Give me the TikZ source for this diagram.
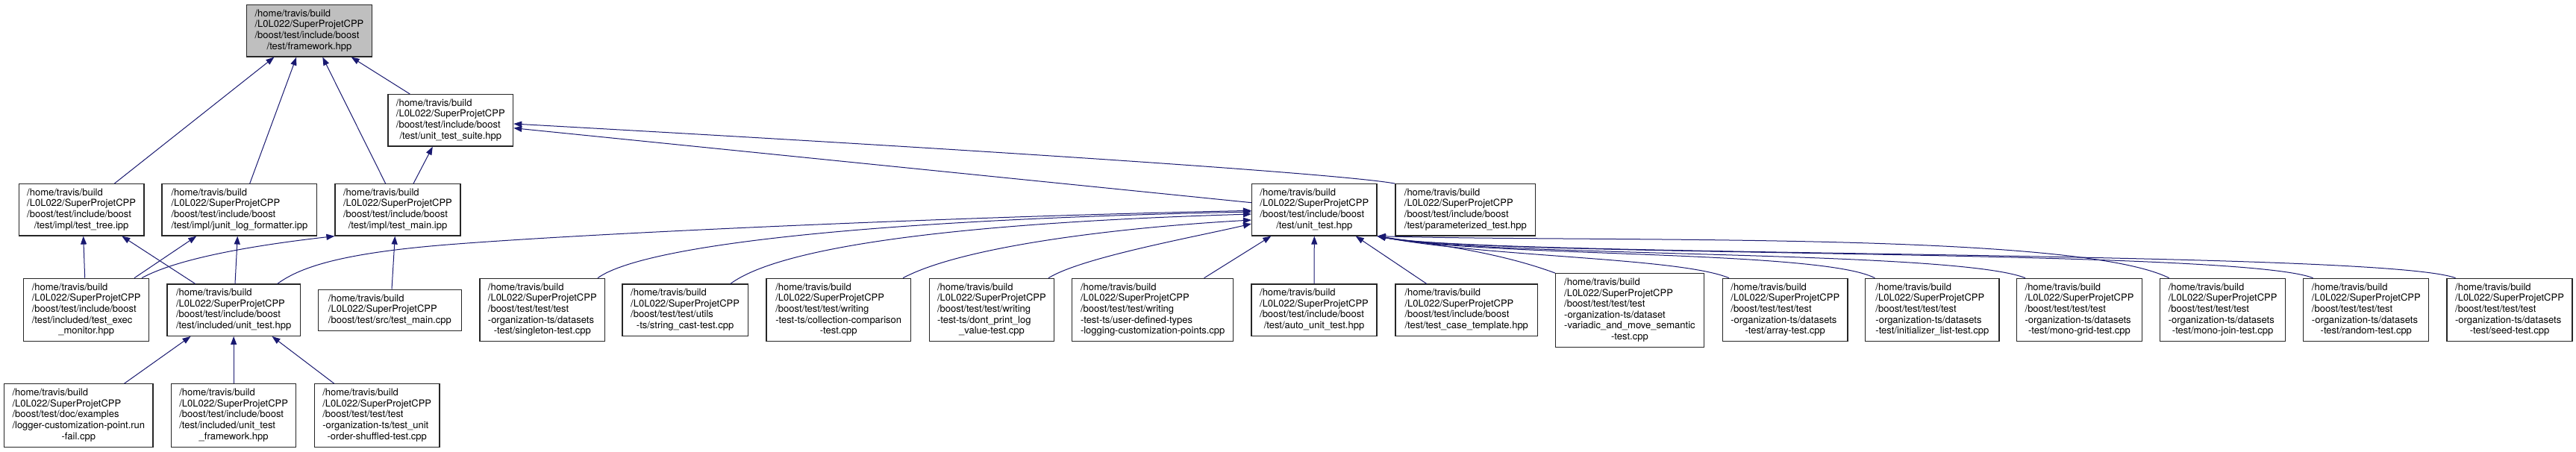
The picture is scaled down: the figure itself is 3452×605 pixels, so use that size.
\documentclass[tikz,border=0pt]{standalone}
\usepackage{fontspec}
\setmainfont{TeX Gyre Heros}
\usetikzlibrary{arrows.meta,calc}
\definecolor{edgeblue}{HTML}{191970}
\definecolor{nodegray}{HTML}{BFBFBF}
\newcommand\flbl[2]{\begin{tabular}{@{}l@{}}#1\\\multicolumn{1}{@{}c@{}}{#2}\end{tabular}}
\newcommand\hdr{/home/travis/build\\/L0L022/SuperProjetCPP}
\renewcommand\arraystretch{1}
\begin{document}
\begin{tikzpicture}[x=1pt,y=-1pt,
  box/.style={draw=black!85, line width=1.2pt, fill=white, inner sep=0pt, anchor=center,
    font=\fontsize{13}{14.6}\selectfont},
  hthree/.style={box, minimum height=55},
  hfour/.style={box, minimum height=69.3},
  hfive/.style={box, minimum height=84.4},
  hsix/.style={box, minimum height=98.6},
  edge/.style={draw=edgeblue, line width=1pt, -{Triangle[length=11pt,width=8pt]}}]
\useasboundingbox (0,0) rectangle (3452,605);
% row 0
\node[hfour, fill=nodegray, minimum width=167.6] (A) at (414.5,41.35) {\flbl{\hdr\\/boost/test/include/boost}{/test/framework.hpp}};
% row 1
\node[hfour, minimum width=167.7] (B) at (603.8,161.35) {\flbl{\hdr\\/boost/test/include/boost}{/test/unit\_test\_suite.hpp}};
% row 2
\node[hfour, minimum width=167.6] (C) at (109.1,281.35) {\flbl{\hdr\\/boost/test/include/boost}{/test/impl/test\_tree.ipp}};
\node[hfour, minimum width=207.8] (D) at (320.9,281.35) {\flbl{\hdr\\/boost/test/include/boost}{/test/impl/junit\_log\_formatter.ipp}};
\node[hfour, minimum width=168] (E) at (533,281.35) {\flbl{\hdr\\/boost/test/include/boost}{/test/impl/test\_main.ipp}};
\node[hfour, minimum width=167.5] (F) at (1761.3,281.35) {\flbl{\hdr\\/boost/test/include/boost}{/test/unit\_test.hpp}};
\node[hfour, minimum width=187.6] (G) at (1963.8,281.35) {\flbl{\hdr\\/boost/test/include/boost}{/test/parameterized\_test.hpp}};
% row 3
\node[hfive, minimum width=168.2] (H) at (115.7,415.5) {\flbl{\hdr\\/boost/test/include/boost\\/test/included/test\_exec}{\_monitor.hpp}};
\node[hfour, minimum width=178.5] (I) at (313.15,415.7) {\flbl{\hdr\\/boost/test/include/boost}{/test/included/unit\_test.hpp}};
\node[hthree, minimum width=191.8] (J) at (522.4,415.8) {\flbl{\hdr}{/boost/test/src/test\_main.cpp}};
\node[hfive, minimum width=167.6] (K) at (726.8,415.5) {\flbl{\hdr\\/boost/test/test/test\\-organization-ts/datasets}{-test/singleton-test.cpp}};
\node[hfour, minimum width=168.2] (L) at (918.1,415.7) {\flbl{\hdr\\/boost/test/test/utils}{-ts/string\_cast-test.cpp}};
\node[hfive, minimum width=193.4] (M) at (1123.7,415.5) {\flbl{\hdr\\/boost/test/test/writing\\-test-ts/collection-comparison}{-test.cpp}};
\node[hfive, minimum width=167.4] (N) at (1328.9,415.5) {\flbl{\hdr\\/boost/test/test/writing\\-test-ts/dont\_print\_log}{\_value-test.cpp}};
\node[hfive, minimum width=216.2] (O) at (1544.7,415.5) {\flbl{\hdr\\/boost/test/test/writing\\-test-ts/user-defined-types}{-logging-customization-points.cpp}};
\node[hfour, minimum width=168] (P) at (1761,415.7) {\flbl{\hdr\\/boost/test/include/boost}{/test/auto\_unit\_test.hpp}};
\node[hfour, minimum width=190.5] (Q) at (1965.25,415.7) {\flbl{\hdr\\/boost/test/include/boost}{/test/test\_case\_template.hpp}};
\node[hsix, minimum width=198.6] (R) at (2183.9,416) {\flbl{\hdr\\/boost/test/test/test\\-organization-ts/dataset\\-variadic\_and\_move\_semantic}{-test.cpp}};
\node[hfive, minimum width=167.5] (S) at (2392.25,415.5) {\flbl{\hdr\\/boost/test/test/test\\-organization-ts/datasets}{-test/array-test.cpp}};
\node[hfive, minimum width=179.3] (T) at (2589.35,415.5) {\flbl{\hdr\\/boost/test/test/test\\-organization-ts/datasets}{-test/initializer\_list-test.cpp}};
\node[hfive, minimum width=168] (U) at (2786.5,415.5) {\flbl{\hdr\\/boost/test/test/test\\-organization-ts/datasets}{-test/mono-grid-test.cpp}};
\node[hfive, minimum width=168] (V) at (2978.6,415.5) {\flbl{\hdr\\/boost/test/test/test\\-organization-ts/datasets}{-test/mono-join-test.cpp}};
\node[hfive, minimum width=168] (W) at (3170.8,415.5) {\flbl{\hdr\\/boost/test/test/test\\-organization-ts/datasets}{-test/random-test.cpp}};
\node[hfive, minimum width=168] (X) at (3363,415.5) {\flbl{\hdr\\/boost/test/test/test\\-organization-ts/datasets}{-test/seed-test.cpp}};
% row 4
\node[hfive, minimum width=199.3] (Y) at (105.35,557) {\flbl{\hdr\\/boost/test/doc/examples\\/logger-customization-point.run}{-fail.cpp}};
\node[hfive, minimum width=167.1] (Z) at (313.15,557) {\flbl{\hdr\\/boost/test/include/boost\\/test/included/unit\_test}{\_framework.hpp}};
\node[hfive, minimum width=167.6] (AA) at (505.2,557) {\flbl{\hdr\\/boost/test/test/test\\-organization-ts/test\_unit}{-order-shuffled-test.cpp}};
% edges to framework.hpp
\draw[edge] ($(C.north)+(44.2,0)$) -- ($(A.south)+(-47.1,0)$);
\draw[edge] ($(D.north)+(13.8,0)$) -- ($(A.south)+(-17.3,0)$);
\draw[edge] ($(E.north)+(-16.3,0)$) -- ($(A.south)+(17.8,0)$);
\draw[edge] ($(B.north)+(-54.4,0)$) -- ($(A.south)+(56.2,0)$);
% edges to unit_test_suite.hpp
\draw[edge] ($(E.north)+(21,0)$) -- ($(B.south)+(-24,0)$);
\draw[edge] ($(F.west)+(0,-9.65)$) -- ($(B.east)+(0,10.35)$);
\draw[edge] (G.north west) .. controls (1800,233) and (1300,200) .. ($(B.east)+(0,4.65)$);
% edges to test_tree / junit / test_main
\draw[edge] ($(H.north)+(-2,0)$) -- ($(C.south)+(2.6,0)$);
\draw[edge] ($(I.north)+(-51.5,0)$) -- ($(C.south)+(54.2,0)$);
\draw[edge] ($(H.north)+(64.3,0)$) -- ($(D.south)+(-57.6,0)$);
\draw[edge] ($(I.north)+(1.85,0)$) -- ($(D.south)+(-2.6,0)$);
\draw[edge] ($(H.north)+(74.3,0)$) .. controls (235,348) and (330,330) .. (E.south west);
\draw[edge] ($(J.north)+(2.6,0)$) -- ($(E.south)+(-3.7,0)$);
% edges to unit_test.hpp
\draw[edge] ($(I.north)+(58.55,0)$) .. controls (400,360) and (450,340) .. (600,328) .. controls (800,312) and (1300,290) .. ($(F.west)+(0,1)$);
\draw[edge] ($(K.north)+(74.2,0)$) .. controls (860,330) and (1150,295) .. ($(F.west)+(0,2.65)$);
\draw[edge] ($(L.north)+(60.7,0)$) .. controls (1040,335) and (1250,300) .. ($(F.west)+(0,5.65)$);
\draw[edge] ($(M.north)+(86.3,0)$) .. controls (1290,330) and (1500,305) .. ($(F.west)+(0,13.65)$);
\draw[edge] ($(N.north)+(76.1,0)$) .. controls (1450,345) and (1600,318) .. ($(F.west)+(0,18.65)$);
\draw[edge] ($(O.north)+(68.9,0)$) -- ($(F.south)+(-58,0)$);
\draw[edge] (P.north) -- (F.south);
\draw[edge] ($(Q.north)+(-53.5,0)$) -- ($(F.south)+(55.4,0)$);
\draw[edge] (R.north west) .. controls (2000,335) and (1900,325) .. (F.south east);
\draw[edge] ($(S.north)+(-75.25,0)$) .. controls (2250,345) and (1995,345) .. (F.south east);
\draw[edge] ($(T.north)+(-77,0)$) .. controls (2440,335) and (1995,345) .. (F.south east);
\draw[edge] ($(U.north)+(-72.5,0)$) .. controls (2620,335) and (1995,345) .. (F.south east);
\draw[edge] ($(V.north)+(-71.9,0)$) .. controls (2780,310) and (2150,325) .. (F.south east);
\draw[edge] ($(W.north)+(-71.3,0)$) .. controls (3000,333) and (1995,345) .. (F.south east);
\draw[edge] ($(X.north)+(-72.5,0)$) .. controls (3190,335) and (1995,345) .. (F.south east);
% edges to included/unit_test.hpp
\draw[edge] ($(Y.north)+(61.15,0)$) -- ($(I.south)+(-57.65,0)$);
\draw[edge] (Z.north) -- (I.south);
\draw[edge] ($(AA.north)+(-57.4,0)$) -- ($(I.south)+(51.35,0)$);
\end{tikzpicture}
\end{document}
